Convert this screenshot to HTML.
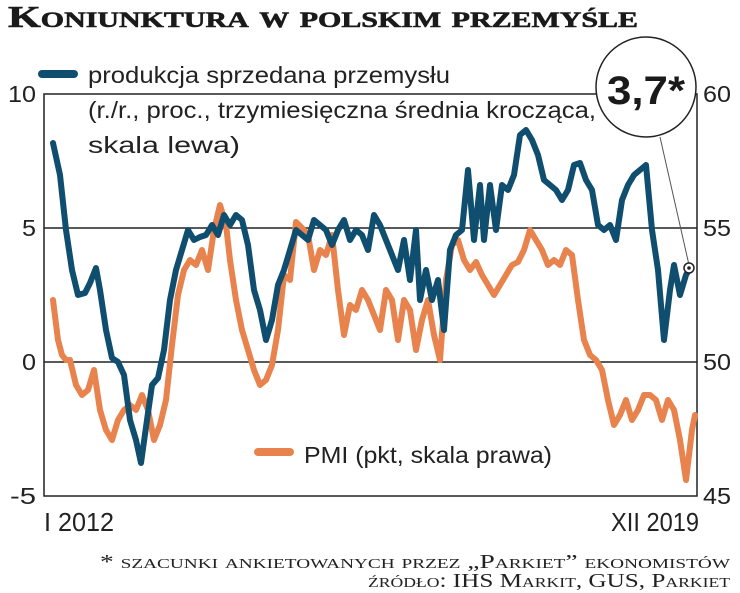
<!DOCTYPE html>
<html><head><meta charset="utf-8"><style>
html,body{margin:0;padding:0;background:#fff;width:740px;height:593px;overflow:hidden}
</style></head><body>
<svg width="740" height="593" viewBox="0 0 740 593" xmlns="http://www.w3.org/2000/svg">
<text x="8" y="27" font-family="Liberation Serif,serif" font-weight="bold" font-size="31" font-variant="small-caps" fill="#1a1a1a" stroke="#1a1a1a" stroke-width="0.6" textLength="630" lengthAdjust="spacingAndGlyphs">Koniunktura w polskim przemyśle</text>
<g font-family="Liberation Sans,sans-serif" fill="#222" font-size="23">
<text x="8" y="102" textLength="28" lengthAdjust="spacingAndGlyphs">10</text>
<text x="22" y="236" textLength="14" lengthAdjust="spacingAndGlyphs">5</text>
<text x="22" y="370" textLength="14" lengthAdjust="spacingAndGlyphs">0</text>
<text x="10" y="504" textLength="26" lengthAdjust="spacingAndGlyphs">-5</text>
<text x="703" y="102" textLength="28" lengthAdjust="spacingAndGlyphs">60</text>
<text x="703" y="236" textLength="28" lengthAdjust="spacingAndGlyphs">55</text>
<text x="703" y="370" textLength="28" lengthAdjust="spacingAndGlyphs">50</text>
<text x="703" y="504" textLength="28" lengthAdjust="spacingAndGlyphs">45</text>
<text x="44" y="531" font-size="26" textLength="70" lengthAdjust="spacingAndGlyphs">I 2012</text>
<text x="611" y="531" font-size="26" textLength="88" lengthAdjust="spacingAndGlyphs">XII 2019</text>
<text x="88" y="83" textLength="362" lengthAdjust="spacingAndGlyphs">produkcja sprzedana przemysłu</text>
<text x="88" y="118" textLength="508" lengthAdjust="spacingAndGlyphs">(r./r., proc., trzymiesięczna średnia krocząca,</text>
<text x="88" y="153" textLength="152" lengthAdjust="spacingAndGlyphs">skala lewa)</text>
<text x="304" y="463" textLength="248" lengthAdjust="spacingAndGlyphs">PMI (pkt, skala prawa)</text>
</g>
<line x1="44" y1="228" x2="697" y2="228" stroke="#222" stroke-width="1.5"/>
<line x1="44" y1="362" x2="697" y2="362" stroke="#222" stroke-width="1.5"/>
<rect x="44" y="94" width="653" height="402" fill="none" stroke="#222" stroke-width="1.5"/>
<line x1="42" y1="74" x2="74" y2="74" stroke="#0f4e6e" stroke-width="8" stroke-linecap="round"/>
<line x1="258" y1="452" x2="290" y2="452" stroke="#e8834d" stroke-width="8" stroke-linecap="round"/>
<polyline fill="none" stroke="#e8834d" stroke-width="6" stroke-linejoin="round" stroke-linecap="round" points="53,300 58,340 62,355 66,360 70,360 76,385 82,395 88,390 94,370 100,410 106,430 112,440 118,420 124,410 130,405 136,410 142,395 148,410 154,440 160,425 166,400 172,345 178,295 184,270 190,260 196,265 202,250 208,270 214,230 220,205 226,225 230,260 236,300 242,330 248,350 254,370 260,385 266,380 272,365 278,330 284,275 290,280 296,222 302,228 308,235 314,270 320,250 326,255 332,235 338,290 344,335 350,305 356,310 362,290 368,300 374,315 380,330 386,290 392,300 398,340 404,300 410,310 416,350 422,320 428,300 434,335 440,360 446,280 452,245 458,240 464,260 470,270 476,262 482,275 488,285 494,295 500,285 506,275 512,265 518,262 524,250 530,230 536,240 542,250 548,265 554,260 560,265 566,250 572,255 578,300 584,340 590,355 596,360 602,370 608,400 614,425 620,415 626,400 632,420 638,410 644,395 650,395 656,400 662,420 668,400 674,410 680,440 686,480 692,430 695,415"/>
<polyline fill="none" stroke="#0f4e6e" stroke-width="6" stroke-linejoin="round" stroke-linecap="round" points="53,143 60,175 66,230 72,270 78,295 85,293 90,283 96,268 100,290 106,330 112,358 118,362 124,375 130,420 136,440 141,463 147,420 152,385 158,378 164,350 170,300 176,270 182,250 188,230 194,240 200,237 206,235 212,225 218,235 224,215 230,225 236,215 242,220 248,245 254,290 260,310 266,340 272,320 278,285 284,270 290,250 296,230 302,235 308,240 314,220 320,225 326,230 332,245 338,230 344,220 350,240 356,230 362,235 368,250 374,215 380,225 386,240 392,255 398,270 404,240 410,280 416,230 420,300 426,270 432,300 438,280 444,330 450,250 456,235 462,230 468,170 474,240 480,185 484,240 490,185 496,230 502,185 508,190 514,175 520,135 526,130 532,140 538,155 544,180 550,185 556,190 562,200 568,190 574,165 580,163 586,180 592,190 598,225 604,230 610,225 616,240 622,200 628,185 634,175 640,170 646,165 652,230 658,270 664,340 670,290 674,265 680,295 686,275 690,268"/>
<line x1="660" y1="137" x2="689" y2="265" stroke="#555" stroke-width="1"/>
<circle cx="689" cy="268" r="5" fill="#fff" stroke="#222" stroke-width="1.5"/>
<circle cx="689" cy="268" r="1.8" fill="#222"/>
<circle cx="646" cy="87" r="50" fill="#fff" stroke="#222" stroke-width="1.5"/>
<text x="646" y="104" text-anchor="middle" font-family="Liberation Sans,sans-serif" font-weight="bold" font-size="40" fill="#1a1a1a" textLength="78" lengthAdjust="spacingAndGlyphs">3,7*</text>
<g font-family="Liberation Serif,serif" font-variant="small-caps" fill="#222" font-size="20" text-anchor="end">
<text x="730" y="568" textLength="630" lengthAdjust="spacingAndGlyphs">* szacunki ankietowanych przez „Parkiet” ekonomistów</text>
<text x="730" y="587" textLength="362" lengthAdjust="spacingAndGlyphs">źródło: IHS Markit, GUS, Parkiet</text>
</g>
</svg>
</body></html>
